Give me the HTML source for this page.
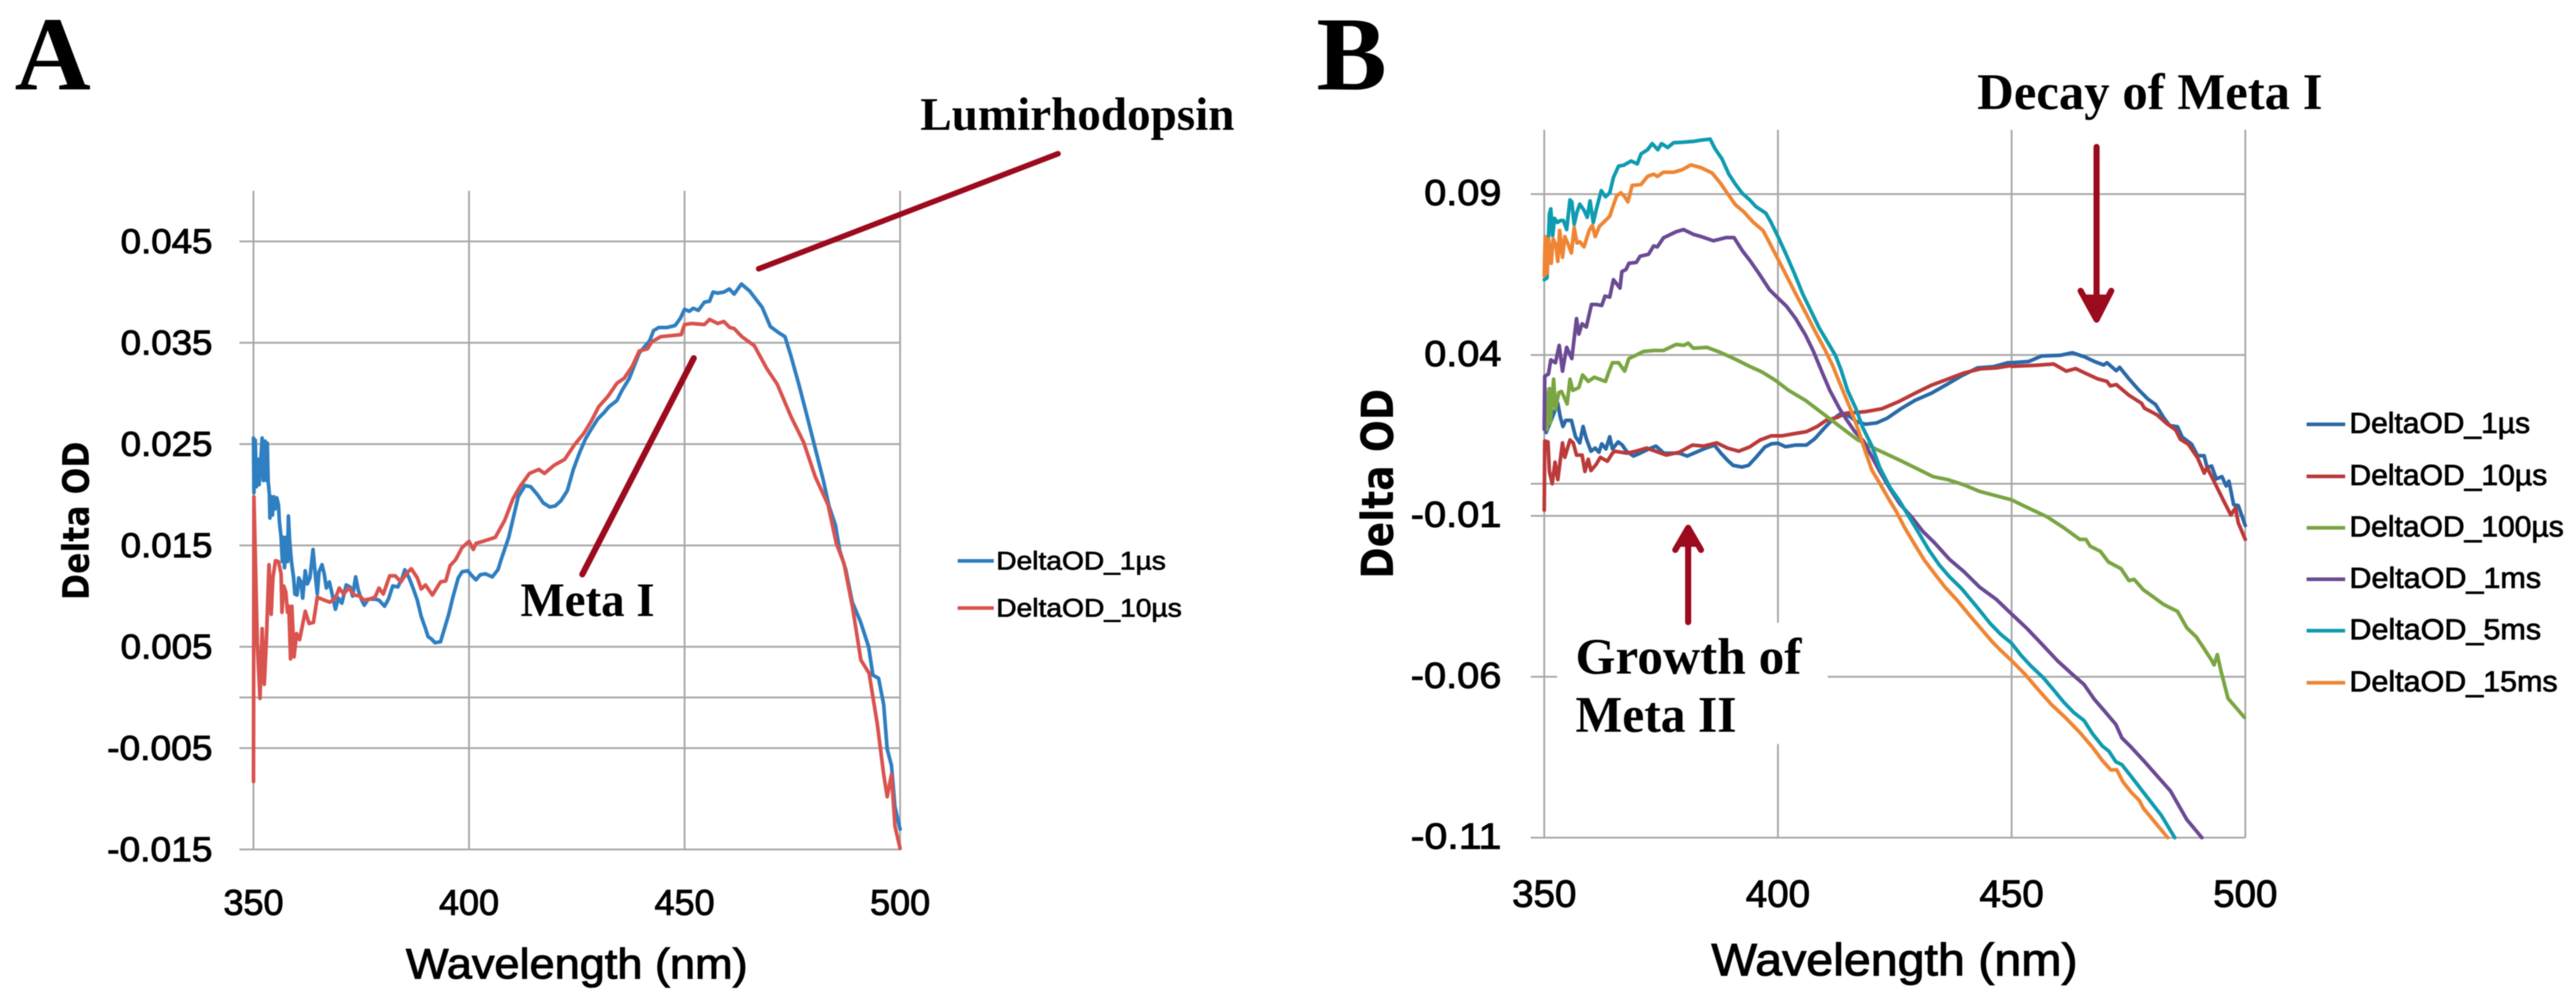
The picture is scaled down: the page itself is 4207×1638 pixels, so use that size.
<!DOCTYPE html>
<html lang="en">
<head>
<meta charset="utf-8">
<title>Delta OD spectra</title>
<style>
html,body{margin:0;padding:0;background:#fff;width:4207px;height:1638px;overflow:hidden}
svg{display:block;filter:blur(0.7px)}
.sans{font-family:"Liberation Sans",sans-serif;fill:#000}
.serif{font-family:"Liberation Serif",serif;font-weight:bold;fill:#000}
.ytitle{font-family:"DejaVu Sans",sans-serif;font-weight:bold;fill:#000}
</style>
</head>
<body>
<svg id="figure" xmlns="http://www.w3.org/2000/svg" width="4207" height="1638" viewBox="0 0 4207 1638">
  <rect width="4207" height="1638" fill="#fff"/>

  <g id="gridA"></g>
  <g id="gridB"></g>
  <rect x="2543" y="1017" width="442" height="198" fill="#fff"/>
  <g id="ticksA"></g>
  <g id="ticksB"></g>
  <g id="seriesA"></g>
  <g id="seriesB"></g>

  <text class="serif" x="24" y="146" font-size="172">A</text>
  <text class="serif" x="2150" y="146" font-size="172">B</text>

  <text class="sans" x="663" y="1598" font-size="70" stroke="#000" stroke-width="1.6" textLength="558" lengthAdjust="spacingAndGlyphs">Wavelength (nm)</text>
  <text class="sans" x="2795" y="1593" font-size="74" stroke="#000" stroke-width="1.6" textLength="598" lengthAdjust="spacingAndGlyphs">Wavelength (nm)</text>
  <text class="ytitle" font-size="60" transform="translate(145,980) rotate(-90)" textLength="259" lengthAdjust="spacingAndGlyphs">Delta OD</text>
  <text class="ytitle" font-size="72" transform="translate(2275,945) rotate(-90)" textLength="310" lengthAdjust="spacingAndGlyphs">Delta OD</text>

  <g>
    <line x1="1564" x2="1623" y1="916" y2="916" stroke="#2f7fc1" stroke-width="6"/>
    <text class="sans" x="1627" y="930" font-size="42" stroke="#000" stroke-width="1.1" textLength="277" lengthAdjust="spacingAndGlyphs">DeltaOD_1µs</text>
    <line x1="1564" x2="1623" y1="993" y2="993" stroke="#d9534f" stroke-width="6"/>
    <text class="sans" x="1627" y="1007" font-size="42" stroke="#000" stroke-width="1.1" textLength="303" lengthAdjust="spacingAndGlyphs">DeltaOD_10µs</text>
  </g>

  <g>
    <line x1="3767" x2="3830" y1="693" y2="693" stroke="#2a6aa8" stroke-width="6"/>
    <text class="sans" x="3837" y="707" font-size="47" stroke="#000" stroke-width="1.2" textLength="295" lengthAdjust="spacingAndGlyphs">DeltaOD_1µs</text>
    <line x1="3767" x2="3830" y1="778" y2="778" stroke="#bb3a3a" stroke-width="6"/>
    <text class="sans" x="3837" y="792" font-size="47" stroke="#000" stroke-width="1.2" textLength="323" lengthAdjust="spacingAndGlyphs">DeltaOD_10µs</text>
    <line x1="3767" x2="3830" y1="862" y2="862" stroke="#7aa543" stroke-width="6"/>
    <text class="sans" x="3837" y="876" font-size="47" stroke="#000" stroke-width="1.2" textLength="350" lengthAdjust="spacingAndGlyphs">DeltaOD_100µs</text>
    <line x1="3767" x2="3830" y1="946" y2="946" stroke="#6b4a94" stroke-width="6"/>
    <text class="sans" x="3837" y="960" font-size="47" stroke="#000" stroke-width="1.2" textLength="313" lengthAdjust="spacingAndGlyphs">DeltaOD_1ms</text>
    <line x1="3767" x2="3830" y1="1030" y2="1030" stroke="#0f9bb0" stroke-width="6"/>
    <text class="sans" x="3837" y="1044" font-size="47" stroke="#000" stroke-width="1.2" textLength="313" lengthAdjust="spacingAndGlyphs">DeltaOD_5ms</text>
    <line x1="3767" x2="3830" y1="1115" y2="1115" stroke="#ef8534" stroke-width="6"/>
    <text class="sans" x="3837" y="1129" font-size="47" stroke="#000" stroke-width="1.2" textLength="340" lengthAdjust="spacingAndGlyphs">DeltaOD_15ms</text>
  </g>

  <g stroke="#9c0a1e" fill="none" stroke-linecap="round" stroke-linejoin="round">
    <line x1="1239" y1="439" x2="1728" y2="251" stroke-width="9"/>
    <line x1="951" y1="938" x2="1133" y2="585" stroke-width="10"/>
    <path d="M3424 240V522M3398 475L3424 522L3448 475" stroke-width="10"/>
    <path d="M3405 484L3424 522L3442 484Z" fill="#9c0a1e" stroke-width="6"/>
    <path d="M2757 1016V862M2736 898L2757 862L2778 898" stroke-width="10"/>
    <path d="M2742 890L2757 862L2772 890Z" fill="#9c0a1e" stroke-width="6"/>
  </g>

  <text class="serif" x="1503" y="212" font-size="76" textLength="513" lengthAdjust="spacingAndGlyphs">Lumirhodopsin</text>
  <text class="serif" x="850" y="1006" font-size="78" textLength="219" lengthAdjust="spacingAndGlyphs">Meta I</text>
  <text class="serif" x="3229" y="178" font-size="84" textLength="564" lengthAdjust="spacingAndGlyphs">Decay of Meta I</text>
  <text class="serif" x="2573" y="1100" font-size="84" textLength="369" lengthAdjust="spacingAndGlyphs">Growth of</text>
  <text class="serif" x="2573" y="1195" font-size="84" textLength="263" lengthAdjust="spacingAndGlyphs">Meta II</text>
</svg>

<script>
// Shared x axis ticks (nm)
const xTicks = [350, 400, 450, 500];

// Panel A y axis, in milli-OD
const aGridLines = [45, 35, 25, 15, 5, 0, -5, -15];
const aTickValues = [45, 35, 25, 15, 5, -5, -15];
const aTickLabels = ["0.045", "0.035", "0.025", "0.015", "0.005", "-0.005", "-0.015"];

// Panel B y axis, in milli-OD
const bGridLines = [90, 40, 0, -10, -60, -110];
const bTickValues = [90, 40, -10, -60, -110];
const bTickLabels = ["0.09", "0.04", "-0.01", "-0.06", "-0.11"];

// Panel A series: [wavelength nm, delta OD in milli-OD]
const a1us = [[350,25.6],[350.1,20.2],[350.4,25.4],[350.7,20.8],[351.1,23.5],[351.3,21],[351.7,23.5],[352,25.6],[352.3,21.4],[352.7,25.3],[353,21.4],[353.2,25.1],[353.4,21.4],[353.7,20],[353.8,17.7],[354.1,19.8],[354.4,18],[354.7,19.8],[355,18.6],[355.4,19.7],[355.8,19],[356,17.4],[356.4,15.8],[356.7,13.4],[356.9,15.8],[357.2,12.8],[357.5,15.8],[357.9,13.4],[358.1,17.9],[358.4,15.4],[358.8,13.4],[359.3,11.8],[359.6,10.2],[360.1,10.1],[360.5,11.8],[361,11.4],[361.4,9.8],[362,12.5],[362.5,11.2],[363.1,11.8],[363.8,14.6],[364.4,11.8],[364.8,10.2],[365.2,12.4],[365.9,13.1],[366.4,12.2],[366.9,10.8],[367.6,11.4],[368.3,10.1],[369,8.7],[369.7,9.8],[370.5,9.3],[371.5,11.1],[372.4,10.9],[373,10],[373.7,11.9],[374.3,10.6],[375,9.7],[375.7,9.1],[376.6,9.7],[378.2,9.7],[379.1,9.6],[380.4,9],[381.3,9.7],[382.3,11],[383.5,10.9],[384.5,11.8],[385.1,12.6],[386.1,11.8],[387,10.8],[388,9.6],[388.9,8],[389.9,6.8],[390.5,6],[391.2,5.8],[392.1,5.4],[393.4,5.5],[394.3,6.8],[395.3,8.2],[396.2,9.8],[397.5,11.8],[398.4,12.4],[399.7,12.5],[400.7,12],[401.6,11.6],[402.6,12.1],[403.8,12.2],[405.4,11.9],[406.7,12.6],[407.6,13.8],[409.2,15.8],[410.2,17.6],[411.4,19.8],[413,20.9],[414.3,20.8],[415.9,20],[417.2,19.2],[418.7,18.8],[420,18.9],[421.3,19.4],[422.8,20.4],[424.2,22.5],[425.6,24.1],[427,25.5],[428.4,26.5],[429.9,27.5],[431.3,28.1],[432.5,28.7],[434.3,29.3],[435.5,30.3],[437.2,31.5],[438.3,32.7],[439.5,34],[440.7,34.6],[441.9,35.2],[442.8,36.2],[444,36.5],[445.9,36.5],[447.8,36.7],[449,37.4],[450,38.3],[451.1,38.1],[452,38.4],[453.2,38.2],[454.6,39],[455.8,39.1],[456.6,40],[457.7,39.9],[459.1,40],[460.4,40.3],[461.5,39.8],[463.2,40.8],[465.1,40.1],[468,38.5],[469.9,36.6],[471.8,36],[473.3,35.6],[474.6,33.8],[476.5,30.9],[478.4,27.8],[480.3,24.6],[482.2,21.4],[483.5,18.9],[485,17],[486,14.5],[487.4,12.6],[488.9,9.4],[490.8,7.5],[492.7,5],[493.7,2.2],[495,1.9],[496.2,-0.7],[497,-5.1],[498,-6.7],[498.8,-10.8],[500,-13]];
const a10us = [[350,-8.3],[350.1,19.8],[350.9,5.3],[351.5,-0.1],[352,6.8],[352.5,1.3],[353,5.7],[353.6,13.1],[354.1,8.2],[354.5,11.8],[355.1,13.5],[355.8,13.4],[356.4,12.2],[356.6,8.4],[357,11],[357.5,10.4],[357.9,8.4],[358.2,9],[358.6,3.8],[358.9,9],[359.4,4],[360,6.3],[360.7,5.7],[362,8.5],[362.9,7.3],[363.9,7.4],[364.8,9.9],[366.4,9.6],[367.7,9.4],[369,9.8],[369.9,10.8],[370.9,10.2],[372.1,10.8],[373.4,10.1],[374.7,10],[375.6,9.6],[376.9,9.7],[378.2,9.9],[379.1,10.8],[380.1,10.2],[381.6,12],[382.9,12],[384.2,11.4],[385.4,12.2],[386.6,12.7],[388,11.8],[388.9,10.7],[389.9,11.1],[391.5,10.1],[393.4,11.4],[394.6,11.5],[395.6,13],[396.9,13.6],[398.4,14.8],[400,15.4],[401,14.6],[401.6,15.2],[403.2,15.4],[406.1,15.8],[408.3,17.5],[410.2,19.6],[411.8,20.8],[414,22.1],[416.2,22.5],[417.5,22.1],[419.7,22.9],[422.2,23.5],[424.4,24.9],[426.7,26.1],[428.4,27.3],[430.1,28.7],[432.2,29.7],[434.3,31],[436,31.5],[437.9,32.7],[439.5,34.2],[441.4,34.4],[442.4,35.1],[444.5,35.6],[446.8,35.7],[449.2,35.8],[450,36.8],[451.6,36.9],[454.6,36.8],[455.8,37.3],[457.7,36.9],[459.1,37.1],[460.5,36.5],[461.5,36.4],[463.3,35.6],[466.2,34.7],[469,32.5],[471.5,30.9],[474.7,27.7],[477.6,25.2],[480.3,21.8],[483.3,19],[485.2,15.2],[487,13.2],[489,8.8],[490.9,3.7],[492.8,2.4],[494.7,-2.6],[496.2,-7.6],[497,-9.8],[498,-7.6],[498.8,-12.7],[500,-14.9]];

// Panel B series: [wavelength nm, delta OD in milli-OD]
const b1us = [[350.4,15.9],[351.8,20.9],[352.9,25],[353.4,20.9],[354,17.8],[354.6,19.7],[355.8,19.7],[356.7,14.6],[357.6,12.7],[358.3,17.8],[359,14],[360,10.1],[360.9,11.1],[361.7,9.8],[362.3,12.4],[363.2,10.8],[364,14.6],[364.6,10.8],[365.8,13],[366.7,12],[367.6,10.1],[369.1,8.6],[370.5,9.5],[372.4,10.8],[373.9,11.7],[375.6,9.5],[378.9,9.5],[380.6,8.6],[382,9.5],[384.1,10.8],[386.4,12],[387.8,9.5],[389.2,7.3],[390.4,5.7],[392.3,5.2],[393.7,5.7],[395.3,8.2],[397.2,11.4],[398.6,12.4],[400,12.6],[401.6,11.5],[403.7,12],[406.1,12],[407.9,14],[409.8,17.1],[411.7,20],[413.5,21.9],[415.4,20.9],[416.8,19.3],[418.7,18.5],[421.1,18.9],[423.4,20.4],[426.3,23.3],[429.3,25.9],[432.8,28.1],[436.3,31],[439.2,33.5],[442.7,36],[446.2,36.4],[449.2,37.6],[450,37.6],[453.7,38],[456.4,39.7],[460.4,39.9],[463,40.7],[465.7,39.4],[467.7,38],[469.7,36.9],[470.4,37.6],[472.4,35.1],[473.1,36.2],[475.1,32.6],[477.1,29.3],[479.1,26.4],[480.8,24.6],[482.5,20.6],[483.8,18.1],[485.5,17.7],[486.5,14.5],[488.5,12.3],[489.8,8.7],[491.2,8.7],[491.8,5.1],[492.8,5.5],[493.8,1.5],[495,2.2],[495.9,-0.7],[496.5,0.8],[497.5,-6.5],[498.5,-6.8],[500,-13]];
const b10us = [[350,-8.2],[350.1,13.3],[350.8,13],[351.1,3.8],[351.7,0],[352.3,6.7],[352.9,1.3],[353.9,12.7],[354.4,8.2],[355.5,13.6],[356.2,12.7],[356.9,8.9],[358.1,8.9],[358.7,3.8],[359.4,7.6],[360,4.1],[361.1,6],[362,8.2],[363.5,7],[364.6,9.5],[365.1,10.1],[367.7,9.5],[369.6,10.1],[371.9,11.1],[373.8,10.1],[376.1,8.9],[378.9,9.8],[381.7,12],[384.1,11.7],[386.9,12.7],[389.2,11.1],[391.6,10.1],[393.9,11.4],[396.2,13.6],[398.6,14.9],[400.9,14.9],[403.3,15.5],[406.1,16.2],[408.4,17.8],[410.3,19.7],[412.7,20.6],[414.5,21.9],[417.3,22.2],[418.7,22.4],[422.2,23.3],[425.8,25.5],[429.3,28.1],[432.8,30.6],[436.3,32.5],[439.8,34.4],[443.3,35.7],[446.8,36],[449.8,36.7],[450,36.5],[455,36.8],[459,37.2],[461.7,35],[463.7,35.8],[465.7,34.4],[468.4,32.6],[470.4,31.8],[471.1,30.4],[472.4,30.8],[475.1,27.5],[477.8,25],[478.4,23.5],[481.1,21.4],[483.1,18.8],[485.1,16.7],[486.1,13.8],[487.8,12.3],[489.8,8],[491.2,3.3],[491.8,5.1],[493.8,-0.7],[495.5,-5.7],[496.9,-9.7],[497.9,-7.5],[498.5,-12.2],[500,-17.3]];
const b100us = [[350,17],[350.2,29.6],[350.6,16.9],[351.1,29.6],[351.3,18.8],[352,32.5],[352.4,23.2],[353.1,28.3],[353.7,28.7],[354.9,24.8],[355.5,32.5],[356.1,29],[357.4,29.9],[358.2,33.8],[359.4,31.8],[360.7,33.1],[361.8,32.5],[363.1,31.8],[363.8,34.7],[364.6,37.6],[365.9,37.6],[367.2,35],[368.1,38.9],[369.4,39.8],[371.2,41.1],[373.4,41.4],[375.5,41.4],[378.2,43.3],[379.9,43],[380.8,43.7],[381.9,42.1],[384.8,42.4],[387.7,40.8],[390.6,38.9],[393.6,36.7],[396.5,34.8],[399.4,32.2],[402.3,29],[405.9,25.9],[408.8,22.7],[411.7,19.5],[414.6,16.3],[417,13.7],[420.9,10.8],[425.8,7.5],[429.3,5],[433.2,2.2],[436.3,1.3],[439.7,-0.3],[443.2,-2.4],[447.6,-4.1],[450,-5],[452.8,-7],[457.6,-10.3],[461.1,-13.6],[464.6,-17.3],[465.9,-17.3],[466.8,-19.4],[469,-21],[470.7,-24.3],[473.4,-26.4],[475.1,-30.1],[476.2,-29.7],[478.2,-33],[479.1,-33.9],[482.5,-37.5],[485.5,-39.7],[487.5,-44.8],[489.5,-47.6],[491.2,-51.3],[492.8,-54.9],[493.3,-56.3],[494,-53.1],[494.8,-58.3],[496.3,-66.7],[499.8,-72.6]];
const b1ms = [[350,16.9],[350.1,33.4],[350.9,34.1],[351.4,38.5],[352.4,37.6],[353.2,43],[353.9,35],[354.8,42.4],[355.9,38.9],[356.9,51.3],[357.4,46.5],[358.1,49.7],[359,48.7],[360.1,55.7],[361.2,55.7],[362.3,55.4],[363,58.3],[364,58],[364.8,63.4],[366.2,60.8],[366.6,65.9],[367.5,66.6],[368.1,68.5],[369.7,68.8],[370.5,70.7],[372.3,71.3],[373.4,73.9],[374.2,73.6],[375.5,76.4],[376.9,77.4],[378.2,78.3],[379.8,79],[381.9,77.5],[383.6,76.8],[386.2,75.5],[388.9,76.5],[390.6,76.5],[392.4,72.4],[394.1,69.2],[395.9,65.4],[398.2,60.3],[400,57.7],[401.8,55.2],[403.8,51.3],[405.9,46.2],[407.6,41.1],[409.4,34.8],[411.1,29],[413.2,23.3],[414.6,20.1],[416.4,16.3],[418.3,13.3],[420.1,8.4],[421.8,3.8],[424,-1.6],[426,-6.1],[428.8,-10.7],[431,-14.8],[433.6,-18.5],[436.7,-23.5],[439.7,-27.2],[443.2,-32.2],[446.7,-35.9],[450,-40.5],[453.3,-45],[456.3,-49.6],[459.8,-55],[462.9,-59.1],[465.5,-62.4],[467.7,-67],[469.9,-70.7],[472.3,-74.8],[473.6,-79],[475.6,-81.9],[478.2,-86],[484,-95.5],[487.5,-104.4],[490.7,-110]];
const b5ms = [[350,63.4],[350.6,64],[351.1,83.8],[351.4,85.4],[351.8,77.1],[352.2,82.5],[352.8,81.2],[353.5,81.8],[354.1,81.8],[354.8,79],[355.5,88.2],[355.9,87.6],[356.4,80.6],[357,84.4],[357.6,86.9],[358.5,85],[359.2,82.8],[359.8,87.9],[360.5,81.2],[361.1,85],[362.2,91.1],[363.1,89.2],[364,90.4],[364.8,95.2],[365.9,98.7],[367,99],[368.6,100.3],[369.9,99.4],[370.7,102.5],[372.1,103.8],[373.1,105.7],[374.3,103.8],[375.1,105.7],[376.4,104.5],[377.7,106],[379.5,106.1],[381.9,106.4],[383.6,106.8],[385.5,107.1],[386.5,104.2],[388,101],[389.5,96.2],[390.9,93.1],[392.4,90.2],[393.9,88.3],[395.3,86.1],[397.4,84.1],[398.5,81.3],[400,76.8],[401.8,71.1],[403.5,65.4],[405.3,59],[407,53.9],[408.8,48.5],[410.5,44.3],[412.3,39.9],[413.5,35.4],[414.9,29],[416.7,23.3],[418.1,17.6],[420.1,11.7],[421.8,5],[424,-1.2],[425.8,-4.9],[427.7,-9.4],[430.1,-15.2],[432.3,-20.6],[434.5,-25.2],[436.7,-28.9],[439.3,-32.6],[442.4,-38],[445.4,-43.4],[447.6,-46.7],[450,-49.6],[452,-53.3],[454.1,-56.6],[456.8,-60.3],[459,-64.1],[461.1,-67.8],[463.3,-71.1],[465.5,-73.6],[467.3,-77.7],[469.4,-81.5],[470.8,-83.1],[472.3,-86.4],[473.6,-87.3],[475.6,-91],[478.2,-95.9],[482,-103],[484.9,-110]];
const b15ms = [[350,64.6],[350.2,76.8],[350.6,65.3],[350.9,76.1],[351.5,68.5],[351.9,76.1],[352.5,74.2],[352.9,69.1],[353.3,78.7],[353.9,70.4],[354.4,76.8],[355,74.8],[355.8,71.7],[356.4,79.6],[357,74.8],[357.6,75.2],[358.5,73.6],[359.6,78.7],[360.3,80.3],[360.9,76.8],[361.8,80],[363.1,81.8],[364,83.1],[364.6,85.7],[365.5,89.5],[366.4,90.4],[367.2,89.2],[367.9,87.6],[368.8,92.7],[370.7,93],[372.1,95.5],[373.4,96.2],[374.2,95.5],[375.5,96.8],[377.7,96.8],[379.5,97.6],[381.4,99.1],[383.6,98.2],[385.9,96.6],[387.7,93.4],[389.2,90.2],[390.9,86.7],[392.7,84.5],[394.7,81.3],[396.8,78.7],[398.2,74.9],[400,69.8],[401.8,64.7],[403.8,59],[405.9,53.2],[407.9,47.5],[410,41.8],[411.7,36.7],[413.5,30.3],[415.5,23.3],[417.3,16.3],[418.3,11.7],[420.1,4.2],[421.8,0.1],[423.6,-4.5],[425.3,-8.6],[427.1,-13.6],[429.3,-19],[431.4,-23.9],[433.6,-28.1],[435.8,-32.2],[438.4,-36.3],[441,-40.9],[443.2,-44.6],[445.9,-49.2],[447.6,-51.7],[450,-55],[452.8,-59.1],[455.5,-63.7],[458.5,-68.6],[461.6,-72.8],[464.6,-77.3],[467.3,-81.9],[469.4,-86],[471.2,-88.9],[472.5,-88.9],[473.8,-92.6],[475.6,-95.9],[477.3,-98.4],[478.2,-100.9],[483.4,-110]];

const SVG_NS = "http://www.w3.org/2000/svg";

function makeLine(parent, x1, y1, x2, y2) {
  const el = document.createElementNS(SVG_NS, "line");
  el.setAttribute("x1", x1);
  el.setAttribute("y1", y1);
  el.setAttribute("x2", x2);
  el.setAttribute("y2", y2);
  el.setAttribute("stroke", "#a8a8a8");
  el.setAttribute("stroke-width", "3");
  parent.appendChild(el);
  return el;
}

function makeLabel(parent, x, y, text, anchor, size, width) {
  const el = document.createElementNS(SVG_NS, "text");
  el.setAttribute("class", "sans");
  el.setAttribute("x", x);
  el.setAttribute("y", y);
  el.setAttribute("text-anchor", anchor);
  el.setAttribute("font-size", size);
  el.setAttribute("stroke", "#000");
  el.setAttribute("stroke-width", "1.5");
  el.setAttribute("textLength", width);
  el.setAttribute("lengthAdjust", "spacingAndGlyphs");
  el.textContent = text;
  parent.appendChild(el);
  return el;
}

function makeSeries(parent, points, xScale, yScale, color, name) {
  const el = document.createElementNS(SVG_NS, "path");
  const d = points.map(function (p, i) {
    return (i ? "L" : "M") + xScale(p[0]).toFixed(1) + " " + yScale(p[1]).toFixed(1);
  }).join("");
  el.setAttribute("d", d);
  el.setAttribute("fill", "none");
  el.setAttribute("stroke", color);
  el.setAttribute("stroke-width", "6");
  el.setAttribute("stroke-linejoin", "round");
  el.setAttribute("stroke-linecap", "round");
  
  
  parent.appendChild(el);
  return el;
}

// Panel A axis functions
function xA(nm) { return 414 + (nm - 350) * 7.04; }
function yA(v) { return 1139 - v * 16.55; }

// Panel B axis functions
function xB(nm) { return 2522 + (nm - 350) * 7.633; }
function yB(v) { return 790 - v * 5.255; }

// Panel A grid
const gridA = document.getElementById("gridA");
aGridLines.forEach(function (v) {
  const el = makeLine(gridA, 391, yA(v), xA(500), yA(v));
  
  
});
xTicks.forEach(function (t) {
  const el = makeLine(gridA, xA(t), yA(50), xA(t), yA(-15));
  
  
});

// Panel B grid
const gridB = document.getElementById("gridB");
bGridLines.forEach(function (v) {
  const el = makeLine(gridB, 2500, yB(v), xB(500), yB(v));
  
  
});
xTicks.forEach(function (t) {
  const el = makeLine(gridB, xB(t), yB(110), xB(t), yB(-110));
  
  
});

// Panel A tick labels
const ticksA = document.getElementById("ticksA");
aTickValues.forEach(function (v, i) {
  const label = aTickLabels[i];
  const el = makeLabel(ticksA, 347, yA(v) + 19, label, "end", 57, label.charAt(0) === "-" ? 172 : 150);
  
  
});
xTicks.forEach(function (t) {
  const el = makeLabel(ticksA, xA(t), 1494, String(t), "middle", 58, 98);
  
  
});

// Panel B tick labels
const ticksB = document.getElementById("ticksB");
bTickValues.forEach(function (v, i) {
  const label = bTickLabels[i];
  const el = makeLabel(ticksB, 2452, yB(v) + 18, label, "end", 59, label.charAt(0) === "-" ? 148 : 126);
  
  
});
xTicks.forEach(function (t) {
  const el = makeLabel(ticksB, xB(t), 1481, String(t), "middle", 62, 105);
  
  
});

// Series
const seriesA = document.getElementById("seriesA");
makeSeries(seriesA, a1us, xA, yA, "#2f7fc1", "series-a-1us");
makeSeries(seriesA, a10us, xA, yA, "#d9534f", "series-a-10us");

const seriesB = document.getElementById("seriesB");
makeSeries(seriesB, b1us, xB, yB, "#2a6aa8", "series-b-1us");
makeSeries(seriesB, b10us, xB, yB, "#bb3a3a", "series-b-10us");
makeSeries(seriesB, b100us, xB, yB, "#7aa543", "series-b-100us");
makeSeries(seriesB, b1ms, xB, yB, "#6b4a94", "series-b-1ms");
makeSeries(seriesB, b5ms, xB, yB, "#0f9bb0", "series-b-5ms");
makeSeries(seriesB, b15ms, xB, yB, "#ef8534", "series-b-15ms");
</script>
</body>
</html>
